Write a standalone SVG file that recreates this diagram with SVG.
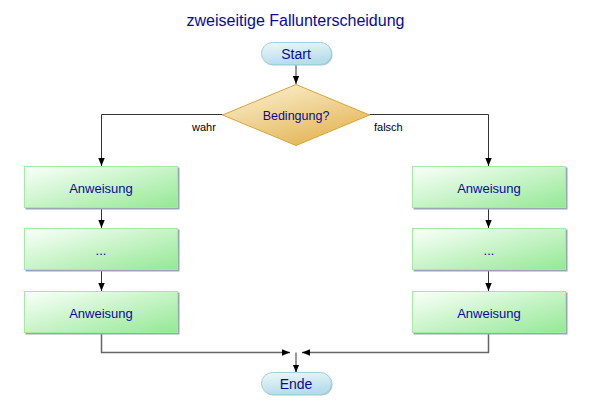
<svg xmlns="http://www.w3.org/2000/svg" width="589" height="414" viewBox="0 0 589 414">
<defs>
<linearGradient id="gBox" x1="0" y1="0" x2="1" y2="1">
<stop offset="0" stop-color="#fbfffb"/>
<stop offset="1" stop-color="#94e894"/>
</linearGradient>
<linearGradient id="gPill" x1="0" y1="0" x2="0.3" y2="1">
<stop offset="0" stop-color="#eef8fb"/>
<stop offset="1" stop-color="#b6dde9"/>
</linearGradient>
<linearGradient id="gDia" x1="0.2" y1="0" x2="0.8" y2="1">
<stop offset="0" stop-color="#faeecd"/>
<stop offset="1" stop-color="#e2b24e"/>
</linearGradient>
<marker id="arr" viewBox="0 0 10 10" refX="10" refY="5" markerWidth="8" markerHeight="8" markerUnits="userSpaceOnUse" orient="auto">
<path d="M0,1 L10,5 L0,9 Z" fill="#000"/>
</marker>
</defs>
<style>
.box{fill:url(#gBox);stroke:#a4eaa4;stroke-width:1}
.shadow{fill:#9aa6b4}
.pill{fill:url(#gPill);stroke:#a2cfdc;stroke-width:1}
.dia{fill:url(#gDia);stroke:#dba43a;stroke-width:1}
.t{font-family:"Liberation Sans",Arial,sans-serif;font-size:13px;fill:#0a0a9a;text-anchor:middle}
.pt{font-size:14px}
.lbl{font-family:"Liberation Sans",Arial,sans-serif;font-size:11px;fill:#000}
.ln{fill:none;stroke:#333;stroke-width:1}
.lnb{fill:none;stroke:#666;stroke-width:1.5}
</style>
<rect width="589" height="414" fill="#fff"/>
<text x="295.5" y="26" class="t" style="font-size:16px">zweiseitige Fallunterscheidung</text>

<g id="connectors">
<path class="ln" d="M296,64 V84" marker-end="url(#arr)"/>
<path class="ln" d="M222.5,114.5 H101.5 V166" marker-end="url(#arr)"/>
<path class="ln" d="M369.5,114.5 H488.5 V166" marker-end="url(#arr)"/>
<path class="ln" d="M101.5,208 V228" marker-end="url(#arr)"/>
<path class="ln" d="M101.5,270 V291" marker-end="url(#arr)"/>
<path class="ln" d="M488.5,208 V228" marker-end="url(#arr)"/>
<path class="ln" d="M488.5,270 V291" marker-end="url(#arr)"/>
<path class="lnb" d="M101.5,333 V352.5 H290"/>
<path class="lnb" d="M488.5,333 V352.5 H302"/>
<path class="ln" d="M283,352.5 H290" marker-end="url(#arr)"/>
<path class="ln" d="M309,352.5 H302" marker-end="url(#arr)"/>
<path class="ln" d="M296,352.5 V372.5" marker-end="url(#arr)"/>
<text x="192" y="131" class="lbl">wahr</text>
<text x="374" y="131" class="lbl">falsch</text>
</g>

<g id="start">
<rect x="261.5" y="42.5" width="70" height="22" rx="11" fill="#b0c4cc" transform="translate(1,1)"/>
<rect x="261.5" y="42.5" width="70" height="22" rx="11" class="pill"/>
<text x="296" y="58.5" class="t pt">Start</text>
</g>

<g id="bedingung">
<path class="dia" d="M296,84.5 L369.5,115 L296,145.5 L222.5,115 Z"/>
<text x="296" y="120" class="t" style="font-size:12.5px">Bedingung?</text>
</g>

<g id="l1">
<rect x="25.5" y="167.5" width="154" height="42" class="shadow"/>
<rect x="24.5" y="166.5" width="153" height="41" class="box"/>
<text x="101" y="192.5" class="t">Anweisung</text>
</g>
<g id="l2">
<rect x="25.5" y="229.5" width="154" height="42" class="shadow"/>
<rect x="24.5" y="228.5" width="153" height="41" class="box"/>
<text x="101" y="254.5" class="t">...</text>
</g>
<g id="l3">
<rect x="25.5" y="292.5" width="154" height="42" class="shadow"/>
<rect x="24.5" y="291.5" width="153" height="41" class="box"/>
<text x="101" y="317.5" class="t">Anweisung</text>
</g>

<g id="r1">
<rect x="413.5" y="167.5" width="154" height="42" class="shadow"/>
<rect x="412.5" y="166.5" width="153" height="41" class="box"/>
<text x="489" y="192.5" class="t">Anweisung</text>
</g>
<g id="r2">
<rect x="413.5" y="229.5" width="154" height="42" class="shadow"/>
<rect x="412.5" y="228.5" width="153" height="41" class="box"/>
<text x="489" y="254.5" class="t">...</text>
</g>
<g id="r3">
<rect x="413.5" y="292.5" width="154" height="42" class="shadow"/>
<rect x="412.5" y="291.5" width="153" height="41" class="box"/>
<text x="489" y="317.5" class="t">Anweisung</text>
</g>

<g id="ende">
<rect x="261.5" y="372.5" width="70" height="22" rx="11" fill="#b0c4cc" transform="translate(1,1)"/>
<rect x="261.5" y="372.5" width="70" height="22" rx="11" class="pill"/>
<text x="296" y="388.5" class="t pt">Ende</text>
</g>
</svg>
